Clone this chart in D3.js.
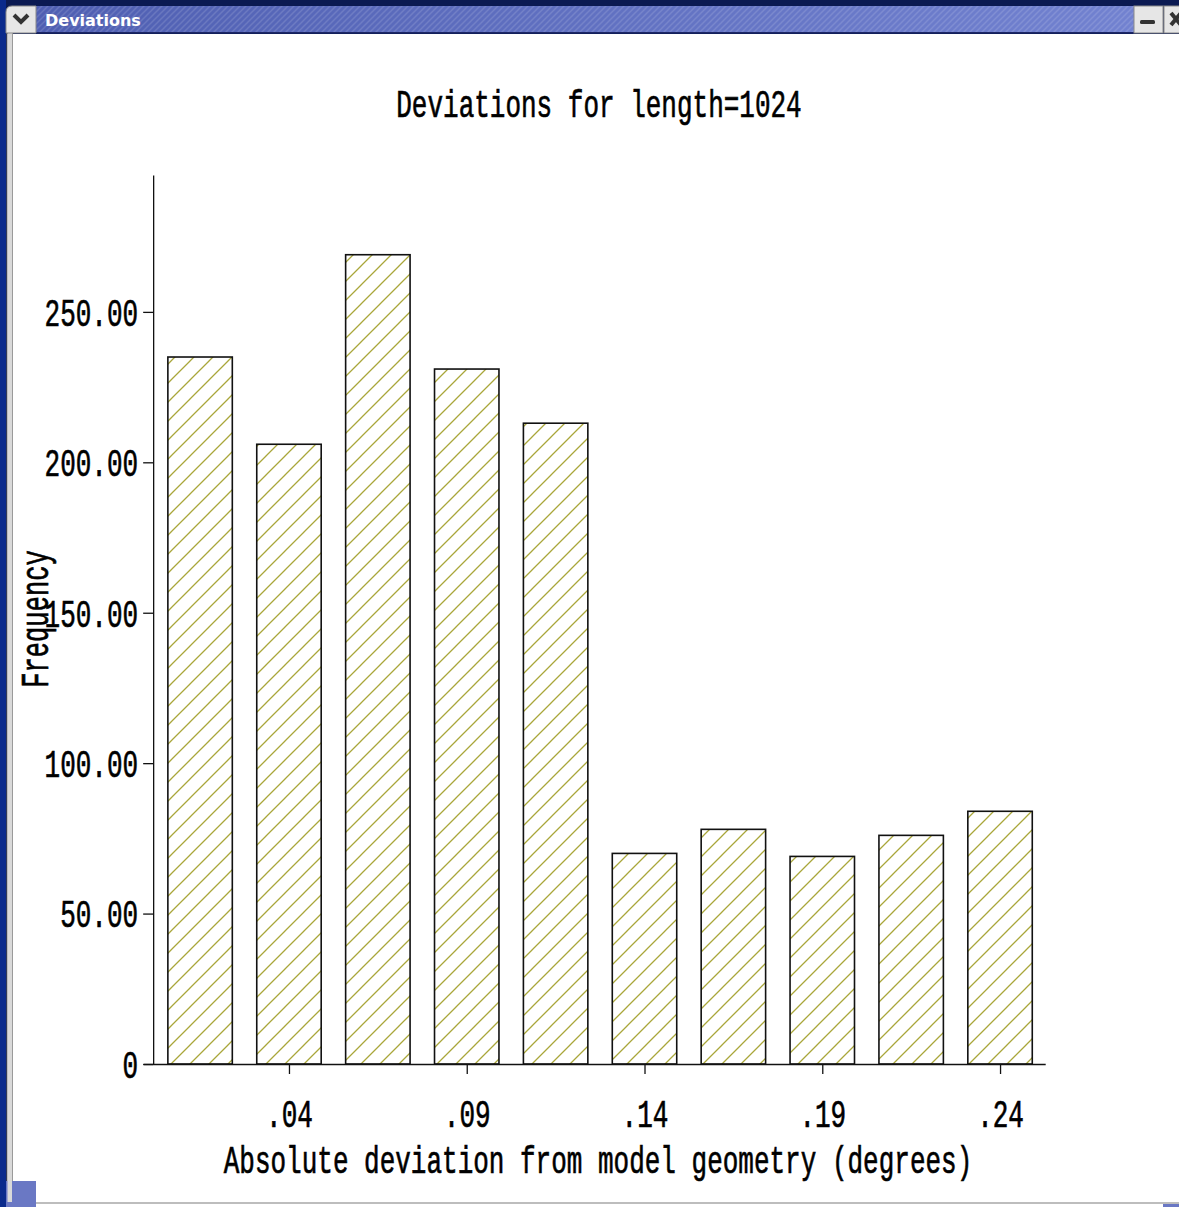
<!DOCTYPE html>
<html>
<head>
<meta charset="utf-8">
<script src="https://cdn.jsdelivr.net/npm/d3@7"></script>
<style>
  html, body { margin: 0; padding: 0; background: #ffffff; }
  svg { display: block; }
  .mono { font-family: "Liberation Mono", "DejaVu Sans Mono", monospace; fill: #000; stroke: #000; stroke-width: 0.45px; }
</style>
</head>
<body>
<svg id="win" width="1179" height="1207"></svg>
<script>
// Histogram bins: midpoint of each bin (degrees) and its count
const binMids = [0.015, 0.04, 0.065, 0.09, 0.115, 0.14, 0.165, 0.19, 0.215, 0.24];
const frequency = [235, 206, 269, 231, 213, 70, 78, 69, 76, 84];
const binWidth = 0.025;
const xTickValues = [0.04, 0.09, 0.14, 0.19, 0.24];
const yTickValues = [0, 50, 100, 150, 200, 250];
const chartTitle = "Deviations for length=1024";
const xTitle = "Absolute deviation from model geometry (degrees)";
const yTitle = "Frequency";
const windowTitle = "Deviations";

const W = 1179, H = 1207;
const svg = d3.select("#win");
const stretch = 1.5;   // tall, narrow glyphs of the plotting font

// ---------- window frame ----------
const defs = svg.append("defs");
const tg = defs.append("linearGradient").attr("id", "titleGrad").attr("x1", 0).attr("x2", 1);
tg.append("stop").attr("offset", 0).attr("stop-color", "#4f5fb2");
tg.append("stop").attr("offset", 1).attr("stop-color", "#7282d0");
const stripes = defs.append("pattern").attr("id", "titleStripes")
  .attr("patternUnits", "userSpaceOnUse").attr("width", 6).attr("height", 6);
stripes.append("path").attr("d", "M0,6 L6,0 M-1,1 L1,-1 M5,7 L7,5")
  .attr("stroke", "#ffffff").attr("stroke-opacity", 0.13).attr("stroke-width", 1.5);

const hatch = defs.append("pattern").attr("id", "hatch")
  .attr("patternUnits", "userSpaceOnUse").attr("width", 19).attr("height", 19);
hatch.append("path").attr("d", "M0,19 L19,0 M-2,2 L2,-2 M17,21 L21,17")
  .attr("stroke", "#a9a63a").attr("stroke-width", 1.3);

svg.append("rect").attr("width", W).attr("height", H).attr("fill", "#ffffff");
// top dark strip
svg.append("rect").attr("x", 0).attr("y", 0).attr("width", W).attr("height", 34).attr("fill", "#0b1a52");
// left border
svg.append("rect").attr("x", 0).attr("y", 0).attr("width", 6).attr("height", H).attr("fill", "#0a2a8c");
svg.append("rect").attr("x", 6).attr("y", 33).attr("width", 1.5).attr("height", H - 33).attr("fill", "#333a55");
svg.append("rect").attr("x", 7.5).attr("y", 33).attr("width", 4.5).attr("height", H - 33).attr("fill", "#d9d9d9");
svg.append("rect").attr("x", 12).attr("y", 33).attr("width", 1).attr("height", H - 33).attr("fill", "#9a9a9a");
// title bar
svg.append("rect").attr("x", 36).attr("y", 6).attr("width", 1098).attr("height", 27).attr("fill", "url(#titleGrad)");
svg.append("rect").attr("x", 36).attr("y", 6).attr("width", 1098).attr("height", 27).attr("fill", "url(#titleStripes)");
svg.append("rect").attr("x", 36).attr("y", 32).attr("width", 1098).attr("height", 1.5).attr("fill", "#1d2766");
svg.append("text").attr("x", 45).attr("y", 26)
  .attr("font-family", "DejaVu Sans, sans-serif").attr("font-weight", "bold").attr("font-size", 16)
  .attr("fill", "#ffffff").text(windowTitle);
// menu button
svg.append("path").attr("d", "M6,33 L6,12 Q6,6 12,6 L36,6 L36,33 Z").attr("fill", "#e6e6e6").attr("stroke", "#8a8a8a");
svg.append("path").attr("d", "M14,15 L21,22 L28,15").attr("fill", "none").attr("stroke", "#333").attr("stroke-width", 4);
// minimize / close buttons
svg.append("rect").attr("x", 1134).attr("y", 6).attr("width", 29).attr("height", 27).attr("fill", "#e6e6e6").attr("stroke", "#8a8a8a");
svg.append("rect").attr("x", 1140).attr("y", 20).attr("width", 15).attr("height", 4).attr("rx", 1.5).attr("fill", "#333");
svg.append("rect").attr("x", 1164).attr("y", 6).attr("width", 20).attr("height", 27).attr("fill", "#e6e6e6").attr("stroke", "#8a8a8a");
svg.append("path").attr("d", "M1171,13 L1181,25 M1181,13 L1171,25").attr("stroke", "#333").attr("stroke-width", 4);
// bottom edge
svg.append("rect").attr("x", 12).attr("y", 1202).attr("width", W - 12).attr("height", 2).attr("fill", "#bdbdbd");
svg.append("rect").attr("x", 6).attr("y", 1181).attr("width", 30).attr("height", 26).attr("fill", "#6a78c4");
svg.append("rect").attr("x", 7.5).attr("y", 1181).attr("width", 4.5).attr("height", 21).attr("fill", "#d9d9d9");
svg.append("rect").attr("x", 1163).attr("y", 1204).attr("width", 16).attr("height", 3).attr("fill", "#6a78c4");

// ---------- chart ----------
const x = d3.scaleLinear().domain([-0.001, 0.2527]).range([143.2, 1045.2]);
const y = d3.scaleLinear().domain([0, 295.5]).range([1064, 175]);
const barFraction = 0.725;

const g = svg.append("g");

g.selectAll("rect.bar")
  .data(binMids.map((m, i) => ({ m, v: frequency[i] })))
  .join("rect")
  .attr("class", "bar")
  .attr("x", d => x(d.m - binWidth * barFraction / 2))
  .attr("width", d => x(d.m + binWidth * barFraction / 2) - x(d.m - binWidth * barFraction / 2))
  .attr("y", d => y(d.v))
  .attr("height", d => y(0) - y(d.v))
  .attr("fill", "url(#hatch)")
  .attr("stroke", "#111")
  .attr("stroke-width", 1.6);

// y axis
const yAxis = g.append("g").attr("transform", `translate(${x(0.0018)},0)`)
  .call(d3.axisLeft(y).tickValues(yTickValues).tickSize(10).tickSizeOuter(0)
    .tickFormat(v => v === 0 ? "0" : d3.format(".2f")(v)));
yAxis.select(".domain").attr("stroke", "#111").attr("stroke-width", 1.3);
yAxis.selectAll(".tick line").attr("stroke", "#111").attr("stroke-width", 1.3);
yAxis.selectAll(".tick text")
  .attr("class", "mono")
  .attr("font-size", 26)
  .attr("x", -15)
  .attr("dy", "0.34em")
  .attr("transform", `scale(1,${stretch})`);

// x axis
const xAxis = g.append("g").attr("transform", `translate(0,${y(0)})`)
  .call(d3.axisBottom(x).tickValues(xTickValues).tickSize(10).tickSizeOuter(0)
    .tickFormat(v => d3.format(".2f")(v).replace(/^0/, "")));
xAxis.select(".domain").attr("stroke", "#111").attr("stroke-width", 1.3);
xAxis.selectAll(".tick line").attr("stroke", "#111").attr("stroke-width", 1.3);
xAxis.selectAll(".tick text")
  .attr("class", "mono")
  .attr("font-size", 26)
  .attr("y", 63 / stretch)
  .attr("dy", 0)
  .attr("transform", `scale(1,${stretch})`);
g.selectAll(".tick text").attr("fill", "#000").style("font-family", "'Liberation Mono', monospace");

// titles
svg.append("text").attr("class", "mono").attr("font-size", 26).attr("text-anchor", "middle")
  .attr("transform", `translate(599,117) scale(1,${stretch})`).text(chartTitle);
svg.append("text").attr("class", "mono").attr("font-size", 26).attr("text-anchor", "middle")
  .attr("transform", `translate(598,1173) scale(1,${stretch})`).text(xTitle);
svg.append("text").attr("class", "mono").attr("font-size", 25.5).attr("text-anchor", "middle")
  .attr("transform", `translate(48,619) rotate(-90) scale(1,${stretch})`).text(yTitle);
</script>
</body>
</html>
